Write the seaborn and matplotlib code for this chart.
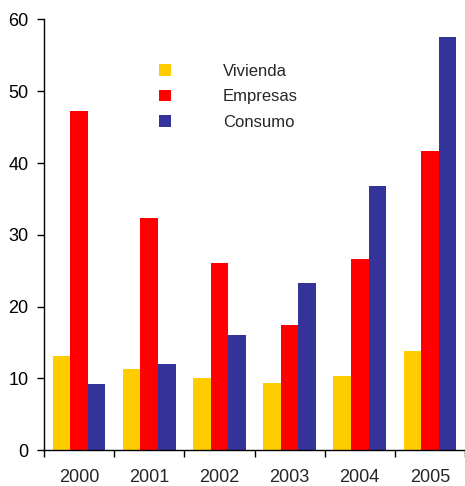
import matplotlib
matplotlib.use("Agg")
import matplotlib.pyplot as plt
import seaborn as sns
import pandas as pd
from matplotlib.patches import Patch
from matplotlib.ticker import FixedLocator

years = ["2000", "2001", "2002", "2003", "2004", "2005"]
vivienda = [13.1, 11.3, 10.0, 9.3, 10.3, 13.8]
empresas = [47.2, 32.3, 26.1, 17.4, 26.6, 41.7]
consumo = [9.2, 12.0, 16.0, 23.3, 36.8, 57.6]
series = ["Vivienda", "Empresas", "Consumo"]
colors = ["#FFCC00", "#FF0000", "#333399"]

rows = []
for name, vals in zip(series, [vivienda, empresas, consumo]):
    for y, v in zip(years, vals):
        rows.append({"year": y, "serie": name, "value": v})
df = pd.DataFrame(rows)

sns.set_style("white")
plt.rcParams['font.family'] = ['Liberation Sans', 'DejaVu Sans']

fig = plt.figure(figsize=(4.65, 4.86), dpi=100)
ax = fig.add_axes([44/465, 36/486, (465-44)/465, (450-19.5)/486])

sns.barplot(data=df, x="year", y="value", hue="serie", hue_order=series,
            palette=colors, width=0.75, saturation=1, ax=ax, legend=False,
            linewidth=0, edgecolor="none")

ax.set_xlim(-0.5, 5.5)
ax.set_ylim(0, 60)
ax.set_yticks(range(0, 61, 10))
ax.set_xlabel("")
ax.set_ylabel("")
for s in ["top", "right"]:
    ax.spines[s].set_visible(False)
for s in ["left", "bottom"]:
    ax.spines[s].set_color("black")
    ax.spines[s].set_linewidth(1.0)

ax.tick_params(axis="y", which="major", direction="out", length=5, width=1,
               labelsize=13, pad=6, left=True, colors="black")
ax.tick_params(axis="x", which="major", length=0, labelsize=13, pad=14)
ax.xaxis.set_minor_locator(FixedLocator([-0.5 + i for i in range(7)]))
ax.tick_params(axis="x", which="minor", direction="out", length=5, width=1,
               bottom=True, colors="black")

handles = [Patch(facecolor=c, edgecolor="none") for c in colors]
leg = ax.legend(handles, series, loc="upper left",
                bbox_to_anchor=(115/421, (450-64)/430.5),
                frameon=False, fontsize=12, handlelength=0.72,
                handleheight=0.72, handletextpad=3.1, labelspacing=0.62,
                borderpad=0, borderaxespad=0)

fig.savefig("out.png", dpi=100)
